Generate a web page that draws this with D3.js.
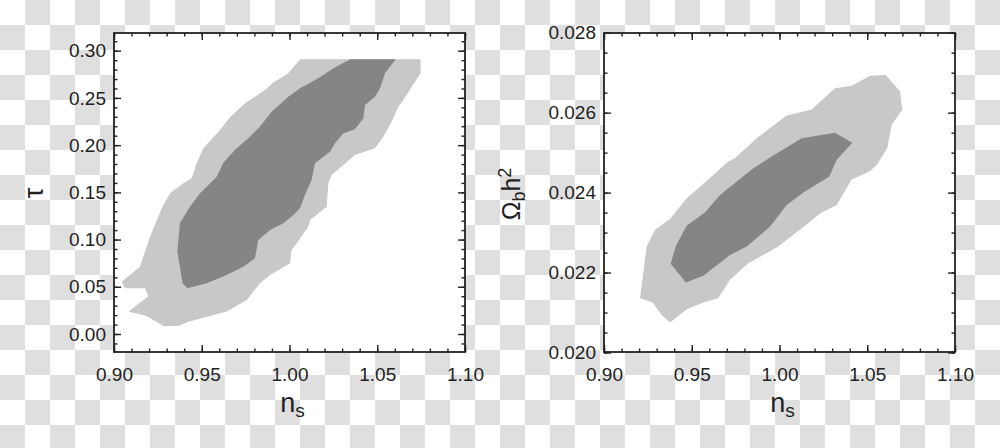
<!DOCTYPE html>
<html><head><meta charset="utf-8">
<script src="https://cdn.jsdelivr.net/npm/d3@7"></script>
<style>
html,body{margin:0;padding:0;background:#fff;}
svg{display:block;}
text{font-family:"Liberation Sans",Arial,Helvetica,sans-serif;fill:#222;}
</style></head>
<body>
<svg id="c" width="1000" height="448"></svg>
<script>
// ---- data ----
const nsTicks = [0.90, 0.95, 1.00, 1.05, 1.10];
const tauTicks = [0.00, 0.05, 0.10, 0.15, 0.20, 0.25, 0.30];
const obTicks = [0.020, 0.022, 0.024, 0.026, 0.028];

// ns vs tau: 95% (outer) and 68% (inner) regions
const tauOuter = [
 [1.0060,0.2909],[0.9993,0.2760],[0.9908,0.2662],[0.9860,0.2584],[0.9746,0.2443],[0.9661,0.2294],
 [0.9604,0.2160],[0.9509,0.1966],[0.9471,0.1807],[0.9443,0.1649],[0.9395,0.1596],[0.9319,0.1490],
 [0.9272,0.1331],[0.9205,0.1031],[0.9148,0.0713],[0.9044,0.0554],[0.9063,0.0484],[0.9177,0.0484],
 [0.9196,0.0396],[0.9082,0.0237],[0.9186,0.0191],[0.9281,0.0085],[0.9367,0.0085],[0.9424,0.0131],
 [0.9642,0.0237],[0.9756,0.0360],[0.9832,0.0537],[0.9889,0.0625],[1.0003,0.0748],[1.0012,0.0890],
 [1.0041,0.0960],[1.0107,0.1137],[1.0117,0.1207],[1.0212,0.1348],[1.0221,0.1596],[1.0240,0.1684],
 [1.0373,0.1896],[1.0487,0.1966],[1.0535,0.2090],[1.0592,0.2284],[1.0620,0.2407],[1.0649,0.2478],
 [1.0696,0.2619],[1.0747,0.2760],[1.0747,0.2909]
];
const tauInner = [
 [1.0345,0.2909],[1.0250,0.2813],[1.0164,0.2707],[1.0060,0.2602],[0.9993,0.2513],[0.9898,0.2354],
 [0.9832,0.2196],[0.9765,0.2072],[0.9689,0.1949],[0.9623,0.1814],[0.9585,0.1666],[0.9490,0.1490],
 [0.9433,0.1348],[0.9376,0.1179],[0.9361,0.0872],[0.9391,0.0537],[0.9418,0.0484],[0.9528,0.0537],
 [0.9642,0.0625],[0.9737,0.0713],[0.9803,0.0801],[0.9822,0.0996],[0.9889,0.1101],[0.9965,0.1172],
 [1.0022,0.1260],[1.0060,0.1331],[1.0088,0.1472],[1.0126,0.1631],[1.0145,0.1807],[1.0231,0.1931],
 [1.0259,0.2019],[1.0307,0.2125],[1.0373,0.2167],[1.0421,0.2284],[1.0430,0.2425],[1.0487,0.2513],
 [1.0516,0.2602],[1.0544,0.2760],[1.0605,0.2909]
];
// ns vs Omega_b h^2
const obOuter = [
 [0.9205,0.02136],[0.9243,0.02265],[0.9291,0.02307],[0.9376,0.02334],[0.9471,0.02386],[0.9575,0.02425],
 [0.9708,0.02478],[0.9746,0.02486],[0.9870,0.02536],[1.0041,0.02593],[1.0183,0.02608],[1.0316,0.02661],
 [1.0411,0.02667],[1.0516,0.02692],[1.0605,0.02694],[1.0687,0.02653],[1.0700,0.02608],[1.0639,0.02569],
 [1.0614,0.02511],[1.0554,0.02469],[1.0512,0.02453],[1.0411,0.02433],[1.0326,0.02369],[1.0231,0.02348],
 [1.0145,0.02317],[0.9993,0.02265],[0.9822,0.02223],[0.9718,0.02182],[0.9651,0.02136],[0.9566,0.02125],
 [0.9471,0.02108],[0.9376,0.02075],[0.9329,0.02094],[0.9277,0.02125]
];
const obInner = [
 [0.9380,0.02222],[0.9410,0.02267],[0.9471,0.02317],[0.9575,0.02350],[0.9661,0.02394],[0.9851,0.02461],
 [0.9955,0.02490],[1.0126,0.02536],[1.0316,0.02550],[1.0415,0.02525],[1.0326,0.02482],[1.0284,0.02440],
 [1.0136,0.02400],[1.0041,0.02369],[0.9946,0.02315],[0.9813,0.02265],[0.9718,0.02244],[0.9566,0.02192],
 [0.9467,0.02175]
];

// ---- drawing ----
const svg = d3.select("#c");
const defs = svg.append("defs");
const pat = defs.append("pattern").attr("id","chk").attr("patternUnits","userSpaceOnUse")
  .attr("width",50).attr("height",50);
pat.append("rect").attr("width",50).attr("height",50).attr("fill","#ffffff");
pat.append("rect").attr("x",25).attr("y",0).attr("width",25).attr("height",25).attr("fill","#dfdfdf");
pat.append("rect").attr("x",0).attr("y",25).attr("width",25).attr("height",25).attr("fill","#dfdfdf");
svg.append("rect").attr("width",1000).attr("height",448).attr("fill","url(#chk)");

const LIGHT = "#c8c8c8", DARK = "#858585", INK = "#222";

function panel(left, right, top, bottom, y, yMajor, yMinor, yFmt, outer, inner) {
  const x = d3.scaleLinear().domain([0.90, 1.10]).range([left, right]);
  const xMinor = d3.range(0, 21).map(i => +(0.90 + i * 0.01).toFixed(2));
  const g = svg.append("g");
  g.append("rect").attr("x",left).attr("y",top).attr("width",right-left).attr("height",bottom-top).attr("fill","#fff");
  const line = d3.line().x(d => x(d[0])).y(d => y(d[1])).curve(d3.curveLinearClosed);
  g.append("path").attr("d", line(outer)).attr("fill", LIGHT);
  g.append("path").attr("d", line(inner)).attr("fill", DARK);

  function ax(axis, tr) {
    const a = g.append("g").attr("transform", tr).call(axis);
    a.select(".domain").remove();
    a.selectAll(".tick line").attr("stroke", INK).attr("stroke-width", 1.4);
    a.selectAll("text").attr("fill", INK).style("font-size","19px");
    return a;
  }
  // x axes
  ax(d3.axisBottom(x).tickValues(nsTicks).tickSize(-7).tickPadding(16).tickFormat(d3.format(".2f")), `translate(0,${bottom})`);
  ax(d3.axisBottom(x).tickValues(xMinor).tickSize(-3.5).tickFormat(""), `translate(0,${bottom})`);
  ax(d3.axisTop(x).tickValues(nsTicks).tickSize(-7).tickFormat(""), `translate(0,${top})`);
  ax(d3.axisTop(x).tickValues(xMinor).tickSize(-3.5).tickFormat(""), `translate(0,${top})`);
  // y axes
  ax(d3.axisLeft(y).tickValues(yMajor).tickSize(-7).tickPadding(8).tickFormat(yFmt), `translate(${left},0)`);
  ax(d3.axisLeft(y).tickValues(yMinor).tickSize(-3.5).tickFormat(""), `translate(${left},0)`);
  ax(d3.axisRight(y).tickValues(yMajor).tickSize(-7).tickFormat(""), `translate(${right},0)`);
  ax(d3.axisRight(y).tickValues(yMinor).tickSize(-3.5).tickFormat(""), `translate(${right},0)`);

  g.append("rect").attr("x",left).attr("y",top).attr("width",right-left).attr("height",bottom-top)
    .attr("fill","none").attr("stroke",INK).attr("stroke-width",1.8);

  // x label n_s
  const t = g.append("text").attr("x", (left+right)/2 + 3).attr("y", 412).attr("text-anchor","middle");
  t.append("tspan").text("n").style("font-size","27px");
  t.append("tspan").text("s").attr("dy", 5).style("font-size","19px");
  return x;
}

const y1 = d3.scaleLinear().domain([0, 0.30]).range([334, 50.7]);
const y1Minor = d3.range(-1, 32).map(i => +(i * 0.01).toFixed(2));
panel(114, 465, 33, 352, y1, tauTicks, y1Minor, d3.format(".2f"), tauOuter, tauInner);

const y2 = d3.scaleLinear().domain([0.020, 0.028]).range([352.5, 32.7]);
const y2Minor = d3.range(0, 17).map(i => +(0.020 + i * 0.0005).toFixed(4));
panel(604, 955, 33, 352, y2, obTicks, y2Minor, d3.format(".3f"), obOuter, obInner);

// y labels
svg.append("text").attr("transform","translate(43,193) rotate(-90)").attr("text-anchor","middle")
  .style("font-size","27px").text("τ");
const yl = svg.append("text").attr("transform","translate(520,194) rotate(-90)").attr("text-anchor","middle")
  .style("font-size","25px");
yl.append("tspan").text("Ω");
yl.append("tspan").text("b").attr("dy",5).style("font-size","18px");
yl.append("tspan").text("h").attr("dy",-5);
yl.append("tspan").text("2").attr("dy",-9).style("font-size","18px");
</script>
</body></html>
